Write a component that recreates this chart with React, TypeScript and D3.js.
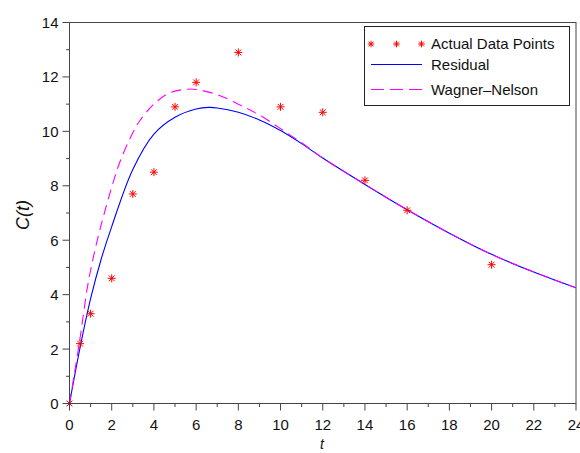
import React from 'react';
import * as d3 from 'd3';

// observed samples
const obsT = [0, 0.5, 1, 2, 3, 4, 5, 6, 8, 10, 12, 14, 16, 20];
const obsC = [0, 2.2, 3.3, 4.6, 7.7, 8.5, 10.9, 11.8, 12.9, 10.9, 10.7, 8.2, 7.1, 5.1];

// fitted curves
const resT = [0, 0.5, 1, 1.5, 2, 3, 4, 5, 6, 6.6, 7, 8, 9, 10, 11, 12, 14, 16, 18, 20, 22, 24];
const resC = [0, 2.05, 3.85, 5.3, 6.5, 8.6, 9.9, 10.52, 10.82, 10.88, 10.86, 10.7, 10.42, 10.03, 9.55, 9.02, 8.05, 7.12, 6.26, 5.48, 4.83, 4.25];

const wnT = [0, 0.46, 0.9, 1.3, 1.6, 2, 2.4, 3, 3.34, 4, 4.76, 5.6, 6, 7, 8, 9, 10, 11, 12, 14, 16, 18, 20, 22, 24];
const wnC = [0, 2.2, 4.5, 5.95, 6.85, 7.95, 8.9, 9.95, 10.4, 11.0, 11.42, 11.55, 11.54, 11.35, 11.0, 10.6, 10.1, 9.58, 9.02, 8.05, 7.12, 6.26, 5.48, 4.83, 4.25];

const xMajor = [0, 2, 4, 6, 8, 10, 12, 14, 16, 18, 20, 22, 24];
const yMajor = [0, 2, 4, 6, 8, 10, 12, 14];

const font = 'Liberation Sans, Arial, Helvetica, sans-serif';

const star = (cx: number, cy: number, r: number) => {
  const d = r * 0.72;
  return `M${cx - r},${cy}H${cx + r}M${cx},${cy - r}V${cy + r}` +
    `M${cx - d},${cy - d}L${cx + d},${cy + d}M${cx - d},${cy + d}L${cx + d},${cy - d}`;
};

export default function App() {
  const x = d3.scaleLinear().domain([0, 24]).range([69.5, 576]);
  const y = d3.scaleLinear().domain([0, 14]).range([403.5, 22.5]);

  const line = d3.line<[number, number]>()
    .x(d => x(d[0]))
    .y(d => y(d[1]))
    .curve(d3.curveCatmullRom.alpha(0.5));

  const resPath = line(resT.map((t, i) => [t, resC[i]]));
  const wnPath = line(wnT.map((t, i) => [t, wnC[i]]));

  const xMinor = d3.range(0, 25, 1).filter(v => v % 2 !== 0);
  const yMinor = d3.range(0, 15, 1).filter(v => v % 2 !== 0);

  const [x0, x1] = x.range();
  const [y0, y1] = y.range();

  return (
    <svg width={580} height={453} style={{ position: 'absolute', left: 0, top: 0, background: '#fff' }}
      fontFamily={font}>
      <defs>
        <clipPath id="plot">
          <rect x={x0} y={y1} width={x1 - x0} height={y0 - y1} />
        </clipPath>
      </defs>

      <g clipPath="url(#plot)">
        <path d={resPath ?? ''} fill="none" stroke="#0000ff" strokeWidth={1.1} />
        <path d={wnPath ?? ''} fill="none" stroke="#ff00ff" strokeWidth={1.1} strokeDasharray="10,6" />
      </g>
      {obsT.map((t, i) => (
        <path key={i} d={star(x(t), y(obsC[i]), 4)} stroke="#ff0000" strokeWidth={1} fill="none" />
      ))}

      {/* frame */}
      <rect x={x0} y={y1} width={x1 - x0} height={y0 - y1} fill="none" stroke="#444" strokeWidth={1} />

      {/* x axis ticks */}
      {xMajor.map(v => (
        <g key={'xm' + v}>
          <line x1={x(v)} x2={x(v)} y1={y0} y2={y0 + 7} stroke="#444" />
          <text x={x(v)} y={y0 + 26} textAnchor="middle" fontSize={15} fill="#111">{v}</text>
        </g>
      ))}
      {xMinor.map(v => (
        <line key={'xn' + v} x1={x(v)} x2={x(v)} y1={y0} y2={y0 + 3.5} stroke="#444" />
      ))}

      {/* y axis ticks */}
      {yMajor.map(v => (
        <g key={'ym' + v}>
          <line x1={x0 - 7} x2={x0} y1={y(v)} y2={y(v)} stroke="#444" />
          <text x={x0 - 11} y={y(v) + 5.5} textAnchor="end" fontSize={15} fill="#111">{v}</text>
        </g>
      ))}
      {yMinor.map(v => (
        <line key={'yn' + v} x1={x0 - 3.5} x2={x0} y1={y(v)} y2={y(v)} stroke="#444" />
      ))}

      {/* axis titles */}
      <text x={322} y={449} textAnchor="middle" fontSize={14} fontStyle="italic" fill="#111">t</text>
      <text transform="translate(29,215) rotate(-90)" textAnchor="middle" fontSize={18} fontStyle="italic" fill="#111">C(t)</text>

      {/* legend */}
      <g>
        <rect x={364.5} y={26.5} width={205} height={79} fill="#fff" stroke="#222" strokeWidth={1} />
        {[371, 396.5, 421.5].map(cx => (
          <path key={cx} d={star(cx, 44, 3.3)} stroke="#ff0000" strokeWidth={1} fill="none" />
        ))}
        <text x={431} y={49} fontSize={15} fill="#111">Actual Data Points</text>
        <line x1={371} x2={422} y1={64.5} y2={64.5} stroke="#0000ff" strokeWidth={1.1} />
        <text x={431} y={70} fontSize={15} fill="#111">Residual</text>
        <line x1={371} x2={422} y1={89.5} y2={89.5} stroke="#ff00ff" strokeWidth={1.1} strokeDasharray="13,6" />
        <text x={431} y={94.5} fontSize={15} fill="#111">Wagner–Nelson</text>
      </g>
    </svg>
  );
}
